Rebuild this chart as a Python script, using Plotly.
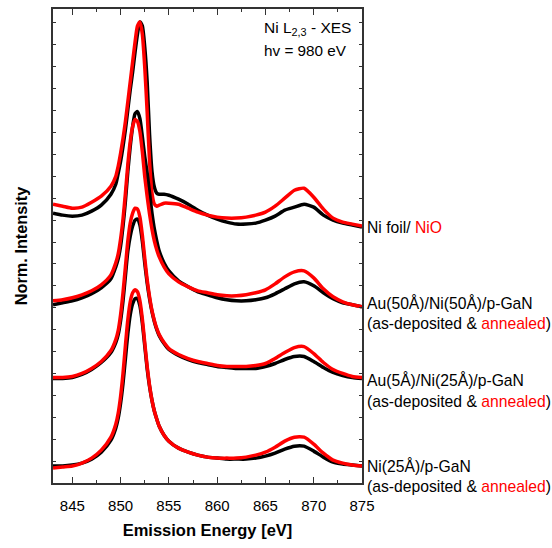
import plotly.graph_objects as go

# Emission energy grid (eV)
energy = [843, 844, 845, 846, 847, 848, 849, 849.5, 849.75, 850, 850.25, 850.5, 850.75,
          851, 851.25, 851.5, 851.75, 852, 852.25, 852.5, 852.75, 853, 853.25, 853.5,
          853.75, 854, 854.5, 855, 856, 857, 858, 859, 860, 861, 862, 863, 864, 865,
          866, 867, 868, 869, 870, 871, 872, 873, 874, 875]

# Normalized, vertically stacked intensities (arb. units)
ni_foil = [271, 269, 268, 269, 273, 279, 290, 300, 311, 323, 338, 355, 375,
           395, 413, 433, 451, 463, 459, 438, 403, 350, 313, 297,
           291, 290, 290, 289, 285, 280, 274, 269, 265, 262, 260, 260, 261, 264,
           268, 274, 277, 280, 277, 269, 264, 261, 259, 257]
nio = [280, 278, 276, 277, 282, 288, 298, 308, 318, 331, 346, 363, 383,
       403, 423, 443, 459, 463, 451, 418, 373, 323, 291, 280,
       278, 279, 281, 281, 280, 276, 272, 269, 267, 266, 266, 267, 269, 272,
       278, 286, 294, 296, 287, 275, 266, 262, 260, 258]

au50_dep = [179, 181, 183, 186, 190, 196, 205, 217, 225, 238, 258, 283, 313,
            338, 358, 371, 373, 366, 348, 328, 311, 291, 271, 255,
            243, 233, 221, 213, 203, 197, 192, 189, 186, 184, 183, 183, 184, 186,
            190, 195, 200, 202, 198, 191, 185, 181, 179, 177]
au50_ann = [183, 184, 186, 189, 193, 199, 209, 221, 230, 245, 265, 291, 320,
            343, 358, 365, 363, 353, 333, 308, 288, 270, 255, 243,
            234, 227, 217, 210, 202, 197, 193, 191, 189, 188, 188, 189, 191, 194,
            200, 207, 212, 213, 206, 195, 187, 182, 179, 177]

au5_dep = [105, 105, 106, 109, 114, 121, 131, 141, 149, 163, 183, 208, 233,
           248, 258, 264, 265, 259, 243, 221, 201, 185, 172, 162,
           154, 148, 140, 134, 128, 124, 121, 119, 117, 116, 115, 115, 115, 117,
           120, 124, 127, 127, 122, 116, 111, 108, 106, 105]
au5_ann = [106, 106, 107, 110, 115, 122, 133, 144, 153, 169, 191, 217, 243,
           261, 271, 276, 275, 267, 249, 226, 204, 187, 173, 163,
           155, 149, 141, 135, 129, 125, 122, 120, 118, 117, 117, 117, 118, 120,
           125, 131, 136, 137, 130, 121, 114, 110, 107, 106]

ni25_dep = [17, 17, 18, 20, 24, 31, 43, 55, 65, 80, 100, 125, 150,
            169, 180, 185, 185, 178, 161, 138, 115, 97, 83, 72,
            64, 57, 48, 42, 35, 31, 28, 26, 25, 24, 24, 24, 25, 27,
            30, 34, 37, 37, 32, 26, 21, 19, 18, 17]
ni25_ann = [15, 16, 17, 20, 25, 33, 46, 59, 70, 87, 110, 138, 164,
            182, 191, 194, 192, 183, 165, 141, 117, 98, 83, 72,
            64, 57, 48, 42, 35, 31, 28, 26, 25, 25, 25, 26, 28, 31,
            36, 42, 46, 46, 39, 30, 23, 20, 18, 17]

series = [
    ("Ni foil", ni_foil, "black"), ("NiO", nio, "red"),
    ("Au(50Å)/Ni(50Å) as-deposited", au50_dep, "black"), ("Au(50Å)/Ni(50Å) annealed", au50_ann, "red"),
    ("Au(5Å)/Ni(25Å) as-deposited", au5_dep, "black"), ("Au(5Å)/Ni(25Å) annealed", au5_ann, "red"),
    ("Ni(25Å) as-deposited", ni25_dep, "black"), ("Ni(25Å) annealed", ni25_ann, "red"),
]

Y_MAX = 476
FONT = "Liberation Sans, Arial, sans-serif"
fig = go.Figure()
for name, vals, col in series:
    fig.add_trace(go.Scatter(x=energy, y=vals, mode="lines", name=name,
                             line=dict(color=col, width=3.5, shape="spline", smoothing=0.6)))

RED = "#ff0000"
ann_txt = "(as-deposited &amp; <span style='color:%s'>annealed</span>)" % RED
labels = [
    (257, "Ni foil/ <span style='color:%s'>NiO</span>" % RED),
    (181, "Au(50Å)/Ni(50Å)/p-GaN"),
    (160, ann_txt),
    (103, "Au(5Å)/Ni(25Å)/p-GaN"),
    (82, ann_txt),
    (17, "Ni(25Å)/p-GaN"),
    (-4, ann_txt),
]
for yv, txt in labels:
    fig.add_annotation(x=1.0, xref="paper", xshift=3, y=yv / Y_MAX, yref="paper", text=txt,
                       showarrow=False, xanchor="left", yanchor="middle",
                       font=dict(family=FONT, size=15.7, color="black"))

fig.add_annotation(x=0.676, xref="paper", y=456 / Y_MAX, yref="paper",
                   text="Ni L<sub>2,3</sub> - XES", showarrow=False,
                   xanchor="left", yanchor="middle", font=dict(family=FONT, size=15.5, color="black"))
fig.add_annotation(x=0.676, xref="paper", y=434 / Y_MAX, yref="paper",
                   text="hv = 980 eV", showarrow=False,
                   xanchor="left", yanchor="middle", font=dict(family=FONT, size=15.3, color="black"))
fig.add_annotation(x=-0.103, xref="paper", y=0.5, yref="paper", text="<b>Norm. Intensity</b>",
                   textangle=-90, showarrow=False, xanchor="center", yanchor="middle",
                   font=dict(family=FONT, size=16.3, color="black"))

fig.update_layout(
    width=552, height=548,
    margin=dict(l=53, r=190, t=7, b=65),
    paper_bgcolor="white", plot_bgcolor="white",
    showlegend=False,
    font=dict(family=FONT, size=15, color="black"),
)
fig.update_xaxes(range=[843, 875], tickmode="linear", tick0=845, dtick=5,
                 ticks="inside", ticklen=6, tickcolor="#333", tickwidth=1,
                 minor=dict(dtick=2.5, tick0=845, ticks="inside", ticklen=3, tickcolor="#333"),
                 showline=True, linecolor="#333", linewidth=1.5, mirror="ticks",
                 showgrid=False, zeroline=False, ticklabelstandoff=8,
                 tickfont=dict(family=FONT, size=15, color="black"),
                 title=dict(text="<b>Emission Energy [eV]</b>", standoff=12,
                            font=dict(family=FONT, size=16.5, color="black")))
fig.update_yaxes(range=[0, Y_MAX], tickmode="linear", tick0=0, dtick=22,
                 ticks="inside", ticklen=3, tickcolor="#333", tickwidth=1,
                 showticklabels=False,
                 showline=True, linecolor="#333", linewidth=1.5, mirror="ticks",
                 showgrid=False, zeroline=False)

fig.write_html("out.html")
